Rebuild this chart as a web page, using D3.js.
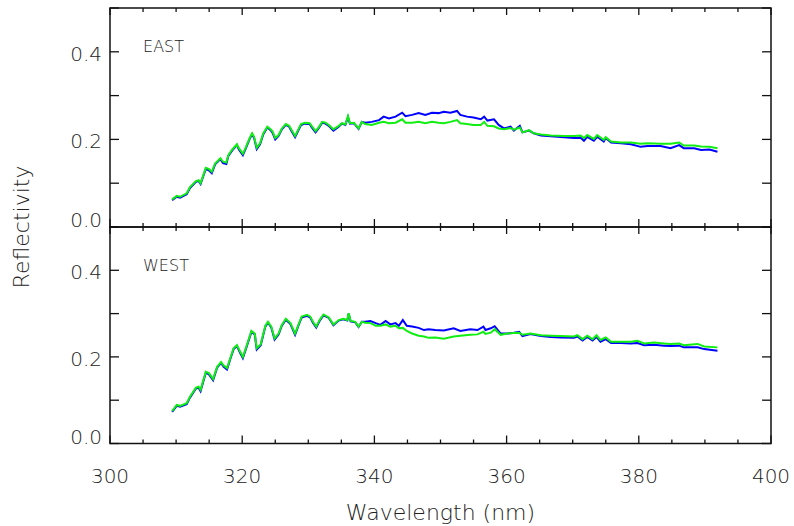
<!DOCTYPE html>
<html>
<head>
<meta charset="utf-8">
<script src="https://cdn.jsdelivr.net/npm/d3@7"></script>
<style>
  body { margin: 0; background: #fff; }
  text { font-family: "DejaVu Sans", sans-serif; fill: #222; }
</style>
</head>
<body>
<div id="chart"></div>
<script>
// wavelengths (nm) and reflectivity
var eastWave = [309.4,310.1,310.6,311.6,312.1,313.0,313.4,313.7,314.5,315.0,
  315.4,315.9,316.7,317.1,317.6,317.9,318.5,319.2,319.5,320.1,
  320.5,321.1,321.5,321.8,322.2,322.7,323.2,323.8,324.3,324.6,
  325.0,325.5,326.0,326.6,327.1,327.5,328.0,328.5,328.9,329.5,
  330.2,330.5,331.1,331.6,332.1,332.6,333.1,333.8,334.6,335.1,
  335.6,336.0,336.3,336.9,337.6,338.1,
  338.6,339.6,340.7,341.4,342.2,343.2,344.2,344.7,345.7,346.7,
  347.7,348.7,349.7,350.5,351.5,352.5,353.0,354.0,355.0,356.1,
  356.6,357.1,358.1,358.8,359.6,360.6,361.1,362.0,362.4,363.4,
  364.1,365.2,366.7,368.7,370.2,371.2,371.7,372.2,373.2,373.7,
  374.7,375.0,375.8,377.3,378.8,380.3,381.3,383.3,384.8,386.1,
  386.8,388.4,389.4,390.7,391.9];

var eastGreen = [0.063,0.071,0.069,0.077,0.091,0.105,0.107,0.100,0.135,0.132,
  0.126,0.145,0.157,0.149,0.147,0.164,0.177,0.189,0.180,0.167,
  0.180,0.202,0.214,0.206,0.181,0.191,0.214,0.229,0.223,0.218,
  0.203,0.210,0.225,0.235,0.231,0.221,0.208,0.223,0.235,0.238,
  0.237,0.231,0.219,0.228,0.240,0.238,0.233,0.223,0.231,0.237,
  0.234,0.253,0.237,0.238,0.225,0.240,
  0.235,0.233,0.238,0.240,0.237,0.238,0.246,0.238,0.238,0.240,
  0.237,0.240,0.238,0.237,0.240,0.244,0.237,0.235,0.233,0.233,
  0.240,0.231,0.230,0.225,0.223,0.226,0.222,0.227,0.216,0.221,
  0.214,0.211,0.209,0.208,0.208,0.209,0.203,0.210,0.201,0.210,
  0.199,0.205,0.195,0.193,0.193,0.190,0.191,0.190,0.190,0.193,
  0.186,0.186,0.184,0.183,0.180];

var eastBlue = [0.061,0.069,0.067,0.075,0.089,0.103,0.105,0.098,0.133,0.129,
  0.123,0.143,0.155,0.146,0.144,0.162,0.175,0.187,0.177,0.164,
  0.178,0.200,0.212,0.203,0.178,0.189,0.212,0.227,0.221,0.215,
  0.200,0.208,0.223,0.233,0.229,0.218,0.205,0.221,0.233,0.236,
  0.235,0.228,0.216,0.226,0.238,0.236,0.231,0.220,0.229,0.236,
  0.233,0.251,0.236,0.237,0.224,0.240,
  0.238,0.240,0.244,0.252,0.248,0.252,0.261,0.253,0.256,0.260,
  0.256,0.261,0.260,0.263,0.261,0.265,0.256,0.252,0.250,0.246,
  0.252,0.243,0.246,0.233,0.225,0.229,0.220,0.231,0.216,0.220,
  0.214,0.209,0.207,0.205,0.203,0.204,0.197,0.206,0.197,0.206,
  0.195,0.203,0.193,0.191,0.189,0.183,0.185,0.185,0.180,0.187,
  0.180,0.180,0.176,0.177,0.172];

var westWave = [309.4,310.1,310.6,311.6,312.1,313.0,313.4,313.7,314.5,315.0,
  315.6,316.2,316.8,317.2,317.7,318.2,318.7,319.2,319.7,320.1,
  320.7,321.4,321.9,322.2,322.8,323.5,323.9,324.4,324.9,325.5,
  326.0,326.6,327.3,328.0,328.5,329.0,329.8,330.3,330.7,331.2,
  331.7,332.3,333.1,333.8,334.6,335.3,335.9,336.1,336.4,337.1,
  337.6,338.1,
  338.6,339.4,340.2,340.9,341.7,342.4,343.2,343.7,344.3,344.9,
  345.7,346.7,347.5,348.2,349.2,350.5,352.0,353.0,354.5,355.6,
  356.5,356.8,357.6,358.2,359.1,360.1,361.1,361.9,362.4,363.6,
  365.2,366.7,368.2,370.2,370.7,371.5,372.2,373.0,373.6,374.2,
  375.0,375.8,377.3,378.8,379.8,380.8,382.3,383.8,384.8,386.1,
  386.8,388.9,389.9,391.9];

var westGreen = [0.075,0.089,0.087,0.093,0.108,0.129,0.131,0.124,0.166,0.162,
  0.149,0.177,0.188,0.180,0.174,0.197,0.220,0.227,0.212,0.200,
  0.227,0.260,0.254,0.220,0.229,0.272,0.281,0.270,0.243,0.254,
  0.274,0.288,0.278,0.254,0.274,0.293,0.297,0.293,0.281,0.270,
  0.285,0.298,0.291,0.275,0.285,0.288,0.285,0.301,0.283,0.281,
  0.270,0.281,
  0.279,0.278,0.272,0.272,0.275,0.270,0.272,0.266,0.267,0.260,
  0.254,0.249,0.247,0.244,0.245,0.242,0.247,0.249,0.251,0.252,
  0.258,0.253,0.256,0.264,0.251,0.254,0.255,0.256,0.251,0.254,
  0.250,0.249,0.248,0.247,0.250,0.241,0.249,0.241,0.250,0.239,
  0.245,0.235,0.235,0.235,0.237,0.231,0.233,0.231,0.230,0.231,
  0.227,0.230,0.224,0.222];

var westBlue = [0.073,0.087,0.085,0.091,0.106,0.127,0.129,0.121,0.164,0.159,
  0.146,0.175,0.186,0.177,0.171,0.195,0.218,0.225,0.209,0.197,
  0.225,0.258,0.252,0.217,0.227,0.270,0.279,0.268,0.240,0.252,
  0.272,0.286,0.276,0.251,0.272,0.291,0.295,0.291,0.279,0.268,
  0.283,0.296,0.290,0.273,0.284,0.287,0.284,0.300,0.282,0.280,
  0.269,0.281,
  0.281,0.283,0.278,0.274,0.283,0.275,0.278,0.272,0.285,0.272,
  0.270,0.267,0.262,0.264,0.262,0.261,0.266,0.260,0.264,0.262,
  0.270,0.262,0.266,0.271,0.254,0.254,0.256,0.258,0.248,0.253,
  0.248,0.246,0.245,0.244,0.247,0.238,0.246,0.238,0.246,0.235,
  0.241,0.232,0.232,0.231,0.232,0.227,0.228,0.226,0.225,0.226,
  0.222,0.222,0.218,0.214];

var xMajor = [300, 320, 340, 360, 380, 400];
var yLabels = [0.0, 0.2, 0.4];

var width = 794, height = 526;
var left = 110, right = 771;
var panels = [
  {name: "EAST", top: 8, bottom: 227, wave: eastWave, blue: eastBlue, green: eastGreen},
  {name: "WEST", top: 227, bottom: 443.5, wave: westWave, blue: westBlue, green: westGreen}
];

var svg = d3.select("#chart")
    .append("svg")
    .attr("width", width)
    .attr("height", height);

var x = d3.scaleLinear().domain([300, 400]).range([left, right]);
var minorX = d3.range(300, 401, 5);

panels.forEach(function(p, i) {
    var y = d3.scaleLinear().domain([0, 0.5]).range([p.bottom, p.top]);
    var g = svg.append("g");

    // minor / major x ticks, drawn inward from top and bottom
    g.selectAll(".xtb")
        .data(minorX)
        .enter().append("line")
        .attr("x1", d => x(d)).attr("x2", d => x(d))
        .attr("y1", p.bottom)
        .attr("y2", d => p.bottom - (d % 20 === 0 ? 8 : 4))
        .attr("stroke", "#111").attr("stroke-width", 1.3);
    g.selectAll(".xtt")
        .data(minorX)
        .enter().append("line")
        .attr("x1", d => x(d)).attr("x2", d => x(d))
        .attr("y1", p.top)
        .attr("y2", d => p.top + (d % 20 === 0 ? 7 : 4))
        .attr("stroke", "#111").attr("stroke-width", 1.3);

    // y ticks on both sides
    var yt = d3.range(0, 0.51, 0.1);
    g.selectAll(".ytl")
        .data(yt)
        .enter().append("line")
        .attr("x1", left).attr("x2", left + 9)
        .attr("y1", d => y(d)).attr("y2", d => y(d))
        .attr("stroke", "#111").attr("stroke-width", 1.3);
    g.selectAll(".ytr")
        .data(yt)
        .enter().append("line")
        .attr("x1", right).attr("x2", right - 9)
        .attr("y1", d => y(d)).attr("y2", d => y(d))
        .attr("stroke", "#111").attr("stroke-width", 1.3);

    g.selectAll(".ylab")
        .data(yLabels)
        .enter().append("text")
        .attr("x", left - 8)
        .attr("y", d => y(d) + (d === 0 ? -7 : 2))
        .attr("dy", "0.35em")
        .attr("text-anchor", "end")
        .style("font-size", "20px")
        .style("font-weight", 200)
        .text(d => d3.format(".1f")(d));

    // frame
    g.append("rect")
        .attr("x", left).attr("y", p.top)
        .attr("width", right - left).attr("height", p.bottom - p.top)
        .attr("fill", "none").attr("stroke", "#111").attr("stroke-width", 1.5);

    var line = d3.line()
        .x((d, j) => x(p.wave[j]))
        .y(d => y(d));

    g.append("path")
        .datum(p.blue)
        .attr("fill", "none")
        .attr("stroke", "#0000ff")
        .attr("stroke-width", 2)
        .attr("d", line);
    g.append("path")
        .datum(p.green)
        .attr("fill", "none")
        .attr("stroke", "#11ee11")
        .attr("stroke-width", 2)
        .attr("d", line);

    g.append("text")
        .attr("x", x(305))
        .attr("y", p.top + 44)
        .style("font-size", "16px")
        .style("font-weight", 200)
        .text(p.name);
});

// x tick labels
svg.selectAll(".xlab")
    .data(xMajor)
    .enter().append("text")
    .attr("x", d => x(d))
    .attr("y", 483)
    .attr("text-anchor", "middle")
    .style("font-size", "20px")
    .style("font-weight", 200)
    .text(d => d);

svg.append("text")
    .attr("x", (left + right) / 2)
    .attr("y", 520)
    .attr("text-anchor", "middle")
    .style("font-size", "22px")
    .style("font-weight", 200)
    .text("Wavelength (nm)");

svg.append("text")
    .attr("transform", "translate(29, 227) rotate(-90)")
    .attr("text-anchor", "middle")
    .style("font-size", "22px")
    .style("font-weight", 200)
    .text("Reflectivity");
</script>
</body>
</html>
